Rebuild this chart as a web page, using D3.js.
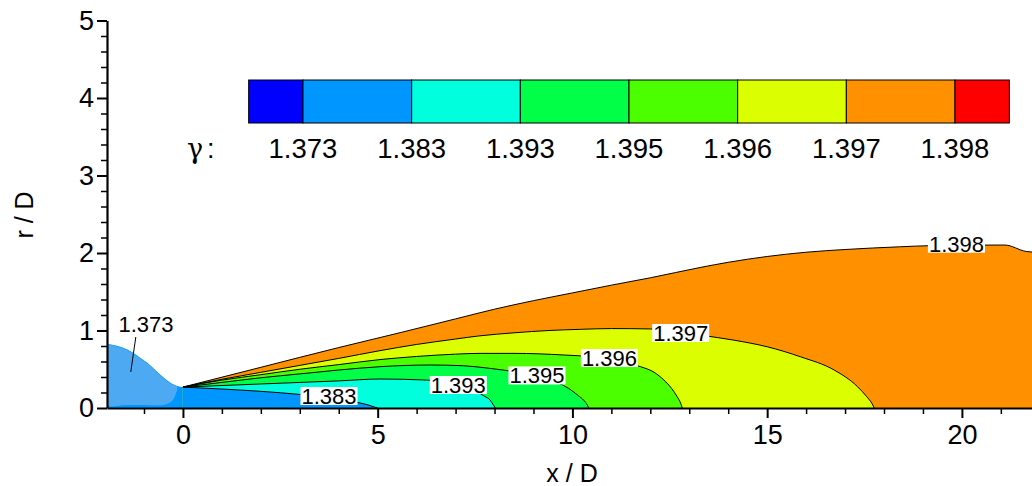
<!DOCTYPE html>
<html><head><meta charset="utf-8">
<script src="https://cdn.jsdelivr.net/npm/d3@7/dist/d3.min.js"></script>
<style>
body{margin:0;background:#fff;}
svg{display:block;font-family:"Liberation Sans",Arial,Helvetica,sans-serif;}
</style></head><body>
<svg id="chart" width="1032" height="486"></svg>
<script>
// ---------------- data ----------------
const xTicks = [0, 5, 10, 15, 20];
const yTicks = [0, 1, 2, 3, 4, 5];
const xMinorTicks = [-1, 1, 2, 3, 4, 6, 7, 8, 9, 11, 12, 13, 14, 16, 17, 18, 19, 21];
const yMinorTicks = [0.2,0.4,0.6,0.8,1.2,1.4,1.6,1.8,2.2,2.4,2.6,2.8,3.2,3.4,3.6,3.8,4.2,4.4,4.6,4.8];
const levelLabels = ["1.373", "1.383", "1.393", "1.395", "1.396", "1.397", "1.398"];
const levelColors = ["#0000ff", "#0096ff", "#00ffdc", "#00ff46", "#4bff00", "#dcff00", "#ff9100", "#ff0000"];

// nozzle region upper boundary (x/D, r/D)
const nozzleTop = [[-1.95,0.826],[-1.75,0.81],[-1.55,0.78],[-1.3,0.72],[-1.1,0.65],[-0.93,0.59],[-0.75,0.51],[-0.6,0.44],[-0.45,0.375],[-0.3,0.32],[-0.15,0.285],[0,0.27]];
// paler patch inside nozzle
const nozzlePale = [[-1.93,0.815],[-1.75,0.8],[-1.55,0.77],[-1.3,0.71],[-1.1,0.64],[-0.93,0.58],[-0.75,0.5],[-0.6,0.43],[-0.45,0.365],[-0.3,0.31],[-0.15,0.275],[-0.2,0.16],[-0.3,0.08],[-0.5,0.04],[-1.0,0.04],[-1.5,0.04],[-1.93,0.04]];

// contour lines (x/D, r/D)
const contour1398 = [[0,0.27],[2,0.525],[4,0.78],[5.6,0.975],[7,1.15],[8,1.275],[9,1.385],[10,1.485],[11,1.585],[12,1.68],[13.3,1.815],[14,1.88],[15,1.955],[16,2.01],[17,2.045],[18.4,2.08],[19.2,2.095],[20.5,2.102],[21.1,2.103],[21.65,2.02],[21.9,2.01]];
const contour1397 = [[0,0.27],[1,0.37],[2,0.46],[3,0.55],[4,0.64],[5.06,0.74],[6,0.82],[7,0.89],[7.6,0.93],[8.5,0.97],[9.4,1.0],[10.2,1.015],[11,1.025],[12,1.02],[12.8,0.98],[13.3,0.94],[14.15,0.875],[15,0.79],[15.86,0.66],[16.72,0.49],[17.32,0.275],[17.55,0.15],[17.7,0.05],[17.75,0]];
const contour1396 = [[0,0.27],[1,0.36],[2,0.43],[3,0.5],[4,0.56],[5.06,0.625],[6,0.665],[7,0.695],[7.63,0.705],[8.5,0.705],[9.78,0.684],[10.5,0.66],[11.2,0.6],[11.75,0.533],[12.1,0.46],[12.35,0.36],[12.55,0.25],[12.69,0.146],[12.78,0.06],[12.82,0]];
const contour1395 = [[0,0.27],[1,0.33],[2,0.39],[3,0.44],[4,0.49],[5.06,0.533],[6.35,0.555],[7.2,0.545],[7.9,0.51],[8.6,0.46],[9.3,0.38],[9.9,0.254],[10.15,0.16],[10.29,0.1],[10.38,0.04],[10.42,0]];
const contour1393 = [[0,0.27],[1,0.29],[2,0.31],[3,0.33],[4,0.35],[5.06,0.374],[6.26,0.36],[7.0,0.3],[7.5,0.22],[7.75,0.15],[7.89,0.1],[7.97,0.04],[8.02,0]];
const contour1383 = [[0,0.27],[1,0.245],[2,0.215],[3,0.175],[3.8,0.13],[4.4,0.08],[4.75,0.04],[4.92,0.012],[5.0,0]];

const contourLabels = [
  {text: "1.383", x: 3.75, r: 0.155},
  {text: "1.393", x: 7.07, r: 0.297},
  {text: "1.395", x: 9.09, r: 0.42},
  {text: "1.396", x: 10.95, r: 0.645},
  {text: "1.397", x: 12.78, r: 0.968},
  {text: "1.398", x: 19.86, r: 2.12}
];
const nozzleLabel = {text: "1.373", x: -0.95, r: 1.08};
const leaderLine = [[-1.21, 0.916], [-1.34, 0.465]];

// ---------------- drawing ----------------
const svg = d3.select("#chart");
const x = d3.scaleLinear().domain([-1.95, 21.8]).range([107, 1032]);
const y = d3.scaleLinear().domain([0, 5]).range([408, 20.5]);

svg.append("defs").append("clipPath").attr("id", "plotclip")
  .append("rect").attr("x", x(-1.95)).attr("y", y(5)).attr("width", x(21.8) - x(-1.95)).attr("height", y(0) - y(5));

const plot = svg.append("g").attr("clip-path", "url(#plotclip)");

const area = d3.area().x(d => x(d[0])).y0(y(0)).y1(d => y(d[1])).curve(d3.curveMonotoneX);
const line = d3.line().x(d => x(d[0])).y(d => y(d[1])).curve(d3.curveMonotoneX);

// nozzle
plot.append("path").attr("d", area(nozzleTop)).attr("fill", levelColors[1]);
plot.append("path").attr("d", d3.line().x(d => x(d[0])).y(d => y(d[1])).curve(d3.curveCatmullRomClosed)(nozzlePale))
  .attr("fill", "#4ea9f3");

// jet bands, outermost first
const bands = [
  {c: contour1398, color: levelColors[6]},
  {c: contour1397, color: levelColors[5]},
  {c: contour1396, color: levelColors[4]},
  {c: contour1395, color: levelColors[3]},
  {c: contour1393, color: levelColors[2]},
  {c: contour1383, color: levelColors[1]}
];
bands.forEach(b => plot.append("path").attr("d", area(b.c)).attr("fill", b.color));
bands.forEach(b => plot.append("path").attr("d", line(b.c)).attr("fill", "none").attr("stroke", "#000").attr("stroke-width", 1));

// contour labels
function addLabel(g, lab, size) {
  const t = g.append("text").attr("x", x(lab.x)).attr("y", y(lab.r)).attr("dy", "0.36em")
    .attr("text-anchor", "middle").attr("font-size", size).attr("fill", "#000").text(lab.text);
  const bb = t.node().getBBox();
  g.insert("rect", () => t.node()).attr("x", bb.x - 1).attr("y", y(lab.r) - 9).attr("width", bb.width + 2).attr("height", 18).attr("fill", "#fff");
}
const labG = svg.append("g");
contourLabels.forEach(l => addLabel(labG, l, 22));
labG.append("text").attr("x", x(nozzleLabel.x)).attr("y", y(nozzleLabel.r)).attr("dy", "0.36em")
  .attr("text-anchor", "middle").attr("font-size", 22).text(nozzleLabel.text);
labG.append("path").attr("d", d3.line().x(d => x(d[0])).y(d => y(d[1]))(leaderLine)).attr("stroke", "#000").attr("stroke-width", 1);

// axes
const xAxis = svg.append("g").attr("transform", `translate(0,${y(0)})`)
  .call(d3.axisBottom(x).tickValues(xTicks).tickSize(10).tickSizeOuter(0).tickPadding(7).tickFormat(d3.format("d")));
const xMinor = svg.append("g").attr("transform", `translate(0,${y(0)})`)
  .call(d3.axisBottom(x).tickValues(xMinorTicks).tickSize(6).tickSizeOuter(0).tickFormat(""));
const yAxis = svg.append("g").attr("transform", `translate(${x(-1.95)},0)`)
  .call(d3.axisLeft(y).tickValues(yTicks).tickSize(10).tickSizeOuter(0).tickPadding(3).tickFormat(d3.format("d")));
const yMinor = svg.append("g").attr("transform", `translate(${x(-1.95)},0)`)
  .call(d3.axisLeft(y).tickValues(yMinorTicks).tickSize(6).tickSizeOuter(0).tickFormat(""));
[xAxis, yAxis].forEach(g => {
  g.select(".domain").attr("stroke-width", 2.2);
  g.selectAll(".tick line").attr("stroke-width", 2);
  g.selectAll(".tick text").attr("font-size", 27).attr("fill", "#000").attr("font-family", "Liberation Sans, Arial, sans-serif");
});
[xMinor, yMinor].forEach(g => {
  g.select(".domain").remove();
  g.selectAll(".tick line").attr("stroke-width", 1.5);
});

svg.append("text").attr("x", 572).attr("y", 482).attr("text-anchor", "middle").attr("font-size", 25).text("x / D");
svg.append("text").attr("transform", "translate(33,215) rotate(-90)").attr("text-anchor", "middle").attr("font-size", 25).text("r / D");

// legend
const legendX = d3.scaleLinear().domain([0, levelLabels.length - 1]).range([303, 955]);
const lg = svg.append("g");
levelColors.forEach((c, i) => {
  const x0 = legendX(Math.max(i - 1, -0.5)), x1 = legendX(Math.min(i, levelLabels.length - 0.5));
  lg.append("rect").attr("x", x0).attr("y", 80).attr("width", x1 - x0).attr("height", 43)
    .attr("fill", c).attr("stroke", "#000").attr("stroke-width", 1);
});
levelLabels.forEach((t, i) => {
  lg.append("text").attr("x", legendX(i)).attr("y", 158).attr("text-anchor", "middle").attr("font-size", 27.5).text(t);
});
lg.append("text").attr("x", 187).attr("y", 158).attr("font-size", 27).attr("font-family", "DejaVu Serif, serif").text("γ");
lg.append("text").attr("x", 207).attr("y", 158).attr("font-size", 27).text(":");
</script>
</body></html>
